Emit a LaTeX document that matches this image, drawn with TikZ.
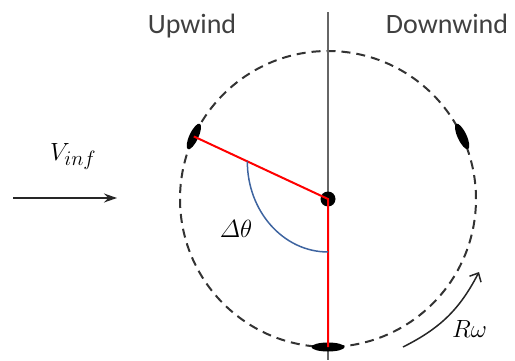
\documentclass[tikz,border=0pt]{standalone}
\usepackage{amsmath}
\usepackage{fontspec}
\setsansfont{Carlito}
\usetikzlibrary{arrows.meta,calc,shapes.geometric}
\definecolor{arcblue}{RGB}{62,100,160}

\begin{document}
\begin{tikzpicture}[x=1pt,y=1pt,
  blade/.style={fill=black,ellipse,inner sep=0pt,minimum width=#1,minimum height=9pt},blade/.default=28pt,
  side/.style={font=\sffamily\fontsize{28}{30}\selectfont,text=black!75,inner sep=0pt,anchor=base},
  lbl/.style={font=\fontsize{29}{32}\selectfont,inner sep=0pt,anchor=base west}]
  \useasboundingbox (0,0) rectangle (515,360);
  \coordinate (hub) at (328,161);
  \coordinate (top) at (328,348);
  \coordinate (bot) at (328,0);
  \draw[black!80,line width=2pt,dash pattern=on 9pt off 6pt] (hub) circle[radius=148];
  \draw[black!60,line width=1.5pt] (top) -- (bot);
  \node[side] (up) at (192,327) {Upwind};
  \node[side] (down) at (447,327) {Downwind};
  % blades and hub
  \node[blade,rotate=65] (bl) at ($(hub)+(155:148)$) {};
  \node[blade,rotate=-65] (br) at ($(hub)+(25:148)$) {};
  \node[blade=33pt] (bb) at ($(hub)+(270:148)$) {};
  \fill (hub) circle[radius=7.5];
  \draw[red,line width=2pt] (bl.center) -- (hub) -- (bb.center);
  \draw[arcblue,line width=1.5pt] ($(hub)+(155:89)$) arc[start angle=180,end angle=270,x radius=80.7,y radius=90.6];
  \node[lbl,anchor=center] (dt) at (236,131) {$\varDelta\theta$};
  % wind
  \coordinate (w0) at (13,162);
  \coordinate (w1) at (117,162);
  \draw[-{Stealth[length=13pt,width=9pt]},line width=1.5pt,black!85] (w0) -- (w1);
  \node[lbl] (vin) at (50,200) {$V_{inf}$};
  % rotation
  \coordinate (r0) at (403,13);
  \coordinate (r1) at (479,88);
  \draw[-{Straight Barb[length=7pt,width=13pt]},line width=1.5pt,black!85] (r0) to[bend right=18] (r1);
  \node[lbl] (rw) at (452,23) {$R\omega$};
\end{tikzpicture}
\end{document}
